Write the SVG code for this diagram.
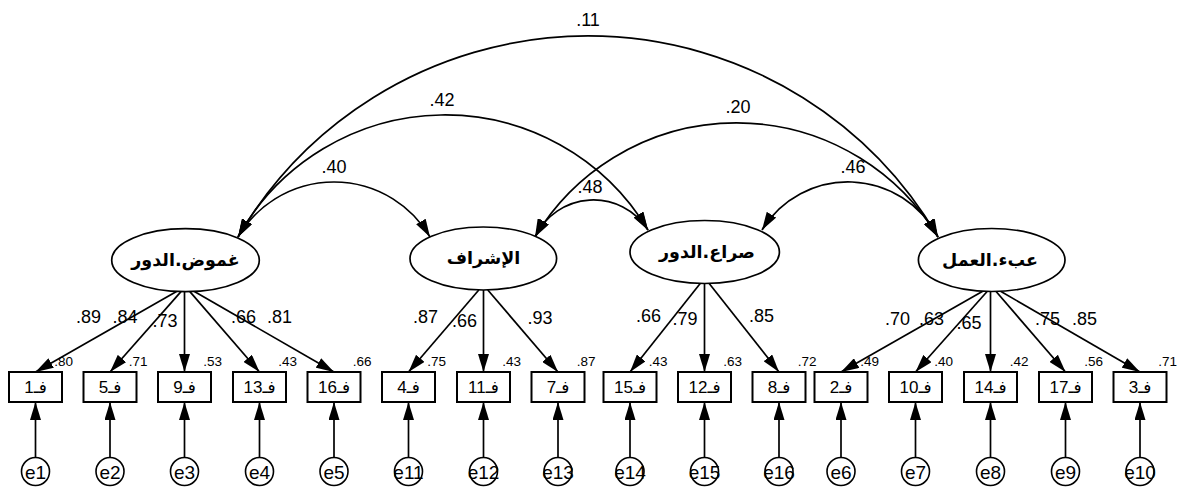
<svg xmlns="http://www.w3.org/2000/svg" width="1178" height="489" viewBox="0 0 1178 489">
<defs>
<style>
.arc{fill:none;stroke:#000;stroke-width:1.7;marker-start:url(#ah);marker-end:url(#ah)}
.ld{fill:none;stroke:#000;stroke-width:1.7;marker-end:url(#ah)}
.lat{fill:#fff;stroke:#000;stroke-width:1.7}
.box{fill:#fff;stroke:#000;stroke-width:2}
.err{fill:#fff;stroke:#000;stroke-width:1.6}
.t{font-family:'Liberation Sans','DejaVu Sans',sans-serif;fill:#000}
.lab{font-size:18px;text-anchor:middle}
.sm{font-size:13.5px;text-anchor:end}
.bx{font-size:17px;text-anchor:middle}
.el{font-size:19px;text-anchor:middle}
.lt{font-family:'DejaVu Sans',sans-serif;font-weight:bold;font-size:17.5px;text-anchor:middle;fill:#000}
</style>
<marker id="ah" viewBox="0 0 18 11" refX="18" refY="5.5" markerWidth="18" markerHeight="11" markerUnits="userSpaceOnUse" orient="auto-start-reverse"><path d="M0,0 L18,5.5 L0,11 z" fill="#000"/></marker>
</defs>
<rect width="1178" height="489" fill="#fff"/>

<g id="connectors">
<path class="arc" d="M238,237 A405.2,405.2 0 0 1 938,237"/>
<path class="arc" d="M238,237 A236.6,236.6 0 0 1 648,230"/>
<path class="arc" d="M238,237 A111.3,111.3 0 0 1 430,237"/>
<path class="arc" d="M535,237 A64.6,64.6 0 0 1 648,230"/>
<path class="arc" d="M535,237 A235,235 0 0 1 938,237"/>
<path class="arc" d="M762,230 A101,101 0 0 1 938,237"/>
<path class="ld" d="M176.5,291.5 L35.5,372"/>
<path class="ld" d="M181,291.6 L110,372"/>
<path class="ld" d="M184.5,291.7 L184.5,372"/>
<path class="ld" d="M189.9,291.6 L259.5,372"/>
<path class="ld" d="M194.4,291.5 L334,372"/>
<path class="ld" d="M478.8,290 L408.5,372"/>
<path class="ld" d="M483.5,290 L483.5,372"/>
<path class="ld" d="M487.8,290 L558,372"/>
<path class="ld" d="M700.2,283.5 L630,372"/>
<path class="ld" d="M704.5,283.5 L704.5,372"/>
<path class="ld" d="M709.2,283.5 L779,372"/>
<path class="ld" d="M982.7,291.3 L841,372"/>
<path class="ld" d="M987.1,291.5 L915.5,372"/>
<path class="ld" d="M990.5,291.5 L990.5,372"/>
<path class="ld" d="M996.1,291.5 L1065.5,372"/>
<path class="ld" d="M1000.6,291.3 L1140,372"/>
<path class="ld" d="M35.5,457.5 L35.5,402"/>
<path class="ld" d="M110,457.5 L110,402"/>
<path class="ld" d="M184.5,457.5 L184.5,402"/>
<path class="ld" d="M259.5,457.5 L259.5,402"/>
<path class="ld" d="M334,457.5 L334,402"/>
<path class="ld" d="M408.5,457.5 L408.5,402"/>
<path class="ld" d="M483.5,457.5 L483.5,402"/>
<path class="ld" d="M558,457.5 L558,402"/>
<path class="ld" d="M630,457.5 L630,402"/>
<path class="ld" d="M704.5,457.5 L704.5,402"/>
<path class="ld" d="M779,457.5 L779,402"/>
<path class="ld" d="M841,457.5 L841,402"/>
<path class="ld" d="M915.5,457.5 L915.5,402"/>
<path class="ld" d="M990.5,457.5 L990.5,402"/>
<path class="ld" d="M1065.5,457.5 L1065.5,402"/>
<path class="ld" d="M1140,457.5 L1140,402"/>
</g>

<g id="edge-labels" class="t lab">
<text x="588" y="26">.11</text>
<text x="442" y="106">.42</text>
<text x="334" y="173">.40</text>
<text x="590" y="193">.48</text>
<text x="738" y="113">.20</text>
<text x="853" y="173">.46</text>
<text x="88.5" y="323">.89</text>
<text x="125" y="323">.84</text>
<text x="165" y="327">.73</text>
<text x="243.5" y="323">.66</text>
<text x="279.5" y="323">.81</text>
<text x="425.5" y="323">.87</text>
<text x="464.5" y="327">.66</text>
<text x="540" y="324">.93</text>
<text x="648.5" y="322">.66</text>
<text x="685" y="325">.79</text>
<text x="761.5" y="322">.85</text>
<text x="897.5" y="325">.70</text>
<text x="931.5" y="325">.63</text>
<text x="969" y="329">.65</text>
<text x="1047.5" y="325">.75</text>
<text x="1084.5" y="325">.85</text>
</g>

<g id="lat-ghomoud"><ellipse class="lat" cx="185.5" cy="260.2" rx="73.8" ry="31.5"/><text class="lt" x="185.5" y="266">غموض.الدور</text></g>
<g id="lat-ishraf"><ellipse class="lat" cx="483.3" cy="258.5" rx="73.3" ry="31.5"/><text class="lt" x="483.5" y="264">الإشراف</text></g>
<g id="lat-siraa"><ellipse class="lat" cx="704.7" cy="252" rx="74.7" ry="31.5"/><text class="lt" x="707" y="258">صراع.الدور</text></g>
<g id="lat-ibaa"><ellipse class="lat" cx="991.7" cy="260" rx="73.3" ry="31.5"/><text class="lt" x="990" y="266">عبء.العمل</text></g>

<g id="f1"><rect class="box" x="9" y="372" width="53" height="30"/><text class="t bx" x="35.5" y="393">فـ1</text><text class="t sm" x="73" y="366">.80</text></g>
<g id="f5"><rect class="box" x="83.5" y="372" width="53" height="30"/><text class="t bx" x="110" y="393">فـ5</text><text class="t sm" x="147.5" y="366">.71</text></g>
<g id="f9"><rect class="box" x="158" y="372" width="53" height="30"/><text class="t bx" x="184.5" y="393">فـ9</text><text class="t sm" x="222" y="366">.53</text></g>
<g id="f13"><rect class="box" x="233" y="372" width="53" height="30"/><text class="t bx" x="259.5" y="393">فـ13</text><text class="t sm" x="297" y="366">.43</text></g>
<g id="f16"><rect class="box" x="307.5" y="372" width="53" height="30"/><text class="t bx" x="334" y="393">فـ16</text><text class="t sm" x="371.5" y="366">.66</text></g>
<g id="f4"><rect class="box" x="382" y="372" width="53" height="30"/><text class="t bx" x="408.5" y="393">فـ4</text><text class="t sm" x="446" y="366">.75</text></g>
<g id="f11"><rect class="box" x="457" y="372" width="53" height="30"/><text class="t bx" x="483.5" y="393">فـ11</text><text class="t sm" x="521" y="366">.43</text></g>
<g id="f7"><rect class="box" x="531.5" y="372" width="53" height="30"/><text class="t bx" x="558" y="393">فـ7</text><text class="t sm" x="595.5" y="366">.87</text></g>
<g id="f15"><rect class="box" x="603.5" y="372" width="53" height="30"/><text class="t bx" x="630" y="393">فـ15</text><text class="t sm" x="667.5" y="366">.43</text></g>
<g id="f12"><rect class="box" x="678" y="372" width="53" height="30"/><text class="t bx" x="704.5" y="393">فـ12</text><text class="t sm" x="742" y="366">.63</text></g>
<g id="f8"><rect class="box" x="752.5" y="372" width="53" height="30"/><text class="t bx" x="779" y="393">فـ8</text><text class="t sm" x="816.5" y="366">.72</text></g>
<g id="f2"><rect class="box" x="814.5" y="372" width="53" height="30"/><text class="t bx" x="841" y="393">فـ2</text><text class="t sm" x="879" y="366">.49</text></g>
<g id="f10"><rect class="box" x="889" y="372" width="53" height="30"/><text class="t bx" x="915.5" y="393">فـ10</text><text class="t sm" x="953" y="366">.40</text></g>
<g id="f14"><rect class="box" x="964" y="372" width="53" height="30"/><text class="t bx" x="990.5" y="393">فـ14</text><text class="t sm" x="1028.5" y="366">.42</text></g>
<g id="f17"><rect class="box" x="1039" y="372" width="53" height="30"/><text class="t bx" x="1065.5" y="393">فـ17</text><text class="t sm" x="1103" y="366">.56</text></g>
<g id="f3"><rect class="box" x="1113.5" y="372" width="53" height="30"/><text class="t bx" x="1140" y="393">فـ3</text><text class="t sm" x="1177" y="366">.71</text></g>

<g id="e1"><circle class="err" cx="35.5" cy="471.5" r="14"/><text class="t el" x="35.5" y="478.5">e1</text></g>
<g id="e2"><circle class="err" cx="110" cy="471.5" r="14"/><text class="t el" x="110" y="478.5">e2</text></g>
<g id="e3"><circle class="err" cx="184.5" cy="471.5" r="14"/><text class="t el" x="184.5" y="478.5">e3</text></g>
<g id="e4"><circle class="err" cx="259.5" cy="471.5" r="14"/><text class="t el" x="259.5" y="478.5">e4</text></g>
<g id="e5"><circle class="err" cx="334" cy="471.5" r="14"/><text class="t el" x="334" y="478.5">e5</text></g>
<g id="e11"><circle class="err" cx="408.5" cy="471.5" r="14"/><text class="t el" x="408.5" y="478.5">e11</text></g>
<g id="e12"><circle class="err" cx="483.5" cy="471.5" r="14"/><text class="t el" x="483.5" y="478.5">e12</text></g>
<g id="e13"><circle class="err" cx="558" cy="471.5" r="14"/><text class="t el" x="558" y="478.5">e13</text></g>
<g id="e14"><circle class="err" cx="630" cy="471.5" r="14"/><text class="t el" x="630" y="478.5">e14</text></g>
<g id="e15"><circle class="err" cx="704.5" cy="471.5" r="14"/><text class="t el" x="704.5" y="478.5">e15</text></g>
<g id="e16"><circle class="err" cx="779" cy="471.5" r="14"/><text class="t el" x="779" y="478.5">e16</text></g>
<g id="e6"><circle class="err" cx="841" cy="471.5" r="14"/><text class="t el" x="841" y="478.5">e6</text></g>
<g id="e7"><circle class="err" cx="915.5" cy="471.5" r="14"/><text class="t el" x="915.5" y="478.5">e7</text></g>
<g id="e8"><circle class="err" cx="990.5" cy="471.5" r="14"/><text class="t el" x="990.5" y="478.5">e8</text></g>
<g id="e9"><circle class="err" cx="1065.5" cy="471.5" r="14"/><text class="t el" x="1065.5" y="478.5">e9</text></g>
<g id="e10"><circle class="err" cx="1140" cy="471.5" r="14"/><text class="t el" x="1140" y="478.5">e10</text></g>
</svg>
